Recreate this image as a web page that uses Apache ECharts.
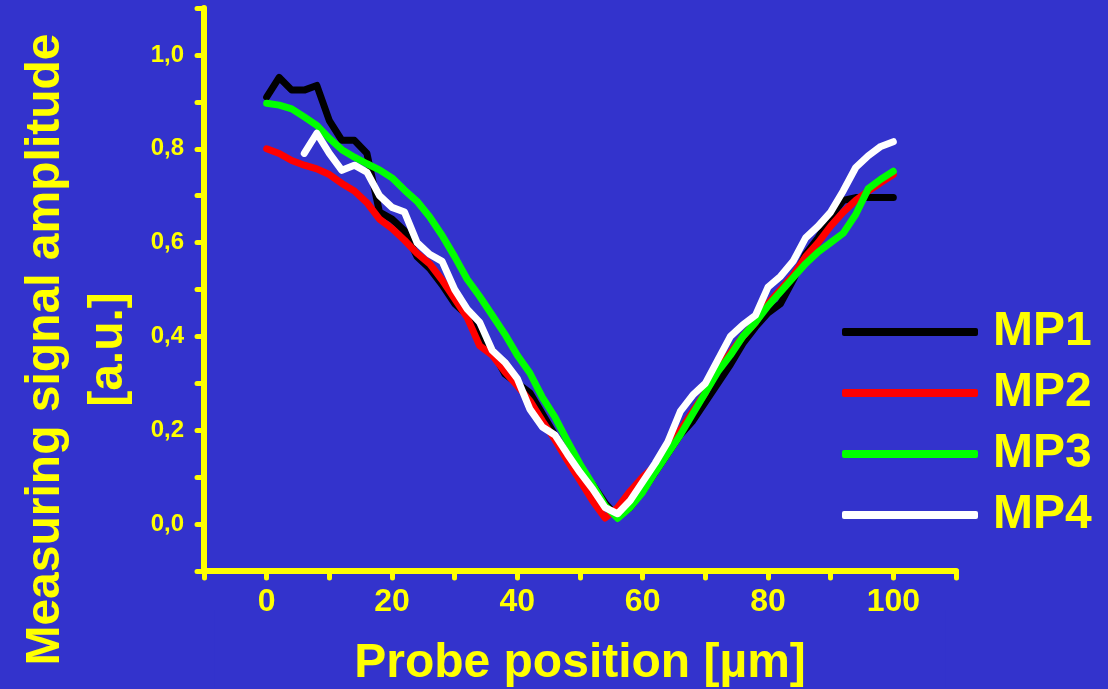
<!DOCTYPE html>
<html>
<head>
<meta charset="utf-8">
<script src="https://cdn.jsdelivr.net/npm/echarts@6/dist/echarts.min.js"></script>
<style>
  html, body { margin: 0; padding: 0; background: #3333cc; }
  #chart { width: 1108px; height: 689px; }
</style>
</head>
<body>
<div id="chart"></div>
<script>
// Probe positions (µm)
const positions = [0,2,4,6,8,10,12,14,16,18,20,22,24,26,28,30,32,34,36,38,40,42,44,46,48,50,
                   52,54,56,58,60,62,64,66,68,70,72,74,76,78,80,82,84,86,88,90,92,94,96,98,100];
const seriesNames = ['MP1', 'MP2', 'MP3', 'MP4'];
const mp1 = [0.91,0.952,0.925,0.925,0.935,0.86,0.818,0.818,0.79,0.665,0.65,0.625,0.57,0.545,0.51,0.47,
             0.445,0.40,0.37,0.32,0.30,0.28,0.235,0.19,0.15,0.115,0.085,0.045,0.015,0.035,0.07,0.11,
             0.15,0.19,0.22,0.26,0.30,0.34,0.385,0.42,0.45,0.47,0.52,0.575,0.61,0.655,0.69,0.696,0.696,0.696,0.696];
const mp2 = [0.80,0.79,0.775,0.765,0.757,0.745,0.726,0.71,0.685,0.65,0.63,0.605,0.577,0.555,0.52,0.48,
             0.44,0.38,0.36,0.325,0.295,0.263,0.22,0.18,0.135,0.093,0.05,0.013,0.035,0.07,0.10,0.125,
             0.165,0.20,0.24,0.28,0.33,0.365,0.40,0.43,0.47,0.50,0.53,0.57,0.60,0.635,0.665,0.69,0.71,0.728,0.745];
const mp3 = [0.897,0.893,0.885,0.868,0.85,0.822,0.798,0.782,0.768,0.755,0.738,0.712,0.688,0.655,0.615,0.57,
             0.522,0.485,0.445,0.405,0.36,0.322,0.27,0.228,0.177,0.128,0.085,0.04,0.012,0.035,0.068,0.11,
             0.15,0.19,0.235,0.28,0.325,0.36,0.40,0.43,0.465,0.495,0.525,0.555,0.58,0.60,0.62,0.66,0.715,0.735,0.752];
const mp4 = [null,null,null,0.79,0.833,0.79,0.754,0.765,0.75,0.70,0.675,0.665,0.60,0.575,0.56,0.50,
             0.458,0.43,0.37,0.345,0.31,0.245,0.207,0.19,0.149,0.11,0.075,0.035,0.022,0.05,0.09,0.13,
             0.175,0.24,0.275,0.30,0.35,0.40,0.425,0.445,0.505,0.528,0.56,0.61,0.635,0.665,0.71,0.76,0.785,0.805,0.815];
const xTickLabels = [0, 20, 40, 60, 80, 100];
const yTickLabels = [0, 0.2, 0.4, 0.6, 0.8, 1.0];

const YELLOW = '#ffff00';
const BG = '#3333cc';
const colors = ['#000000', '#ff0000', '#00ff00', '#ffffff'];
const values = [mp1, mp2, mp3, mp4];

const chart = echarts.init(document.getElementById('chart'), null, { renderer: 'canvas' });

const series = seriesNames.map((name, i) => ({
  name: name,
  type: 'line',
  data: positions.map((x, j) => [x, values[i][j]]),
  showSymbol: false,
  symbol: 'none',
  connectNulls: false,
  lineStyle: { color: colors[i], width: 7, cap: 'round', join: 'round' },
  itemStyle: { color: colors[i] },
  z: 2 + i
}));

chart.setOption({
  animation: false,
  backgroundColor: BG,
  grid: { left: 204, right: 152, top: 8, bottom: 118, containLabel: false, outerBoundsMode: 'none' },
  legend: {
    orient: 'vertical',
    left: 842,
    top: 308,
    padding: 0,
    itemWidth: 136,
    itemHeight: 8,
    itemGap: 13,
    icon: 'roundRect',
    data: seriesNames,
    textStyle: {
      color: YELLOW, fontSize: 48, fontWeight: 'bold',
      fontFamily: 'Liberation Sans, Arial, sans-serif',
      padding: [0, 0, 0, 10]
    }
  },
  xAxis: {
    type: 'value',
    min: -10, max: 110, interval: 10,
    name: 'Probe position [µm]',
    nameLocation: 'middle',
    nameGap: 39,
    nameMoveOverlap: false,
    nameTextStyle: {
      color: YELLOW, fontSize: 48, fontWeight: 'bold',
      fontFamily: 'Liberation Sans, Arial, sans-serif',
      backgroundColor: BG,
      padding: [30, 140, 0, 140]
    },
    splitLine: { show: false },
    axisLine: { show: true, onZero: false, lineStyle: { color: YELLOW, width: 6, cap: 'round' } },
    axisTick: { show: true, inside: false, length: 7, lineStyle: { color: YELLOW, width: 5, cap: 'round' } },
    axisLabel: {
      color: YELLOW, fontSize: 32, fontWeight: 'bold', margin: 15,
      fontFamily: 'Liberation Sans, Arial, sans-serif',
      formatter: v => (xTickLabels.indexOf(Math.round(v)) >= 0 ? String(Math.round(v)) : '')
    }
  },
  yAxis: {
    type: 'value',
    min: -0.1, max: 1.1, interval: 0.1,
    name: 'Measuring signal amplitude\n[a.u.]',
    nameLocation: 'middle',
    nameRotate: 90,
    nameGap: 64,
    nameMoveOverlap: false,
    nameTextStyle: {
      color: YELLOW, fontSize: 48, fontWeight: 'bold', lineHeight: 63,
      fontFamily: 'Liberation Sans, Arial, sans-serif',
      align: 'center',
      padding: [0, 120, 0, 0]
    },
    splitLine: { show: false },
    axisLine: { show: true, onZero: false, lineStyle: { color: YELLOW, width: 6, cap: 'round' } },
    axisTick: { show: true, inside: false, length: 7, lineStyle: { color: YELLOW, width: 5, cap: 'round' } },
    axisLabel: {
      color: YELLOW, fontSize: 24, fontWeight: 'bold', margin: 20,
      fontFamily: 'Liberation Sans, Arial, sans-serif',
      formatter: v => {
        const t = Math.round(v * 10);
        const ok = yTickLabels.some(l => Math.round(l * 10) === t);
        return ok ? (t / 10).toFixed(1).replace('.', ',') : '';
      }
    }
  },
  series: series
});
</script>
</body>
</html>
